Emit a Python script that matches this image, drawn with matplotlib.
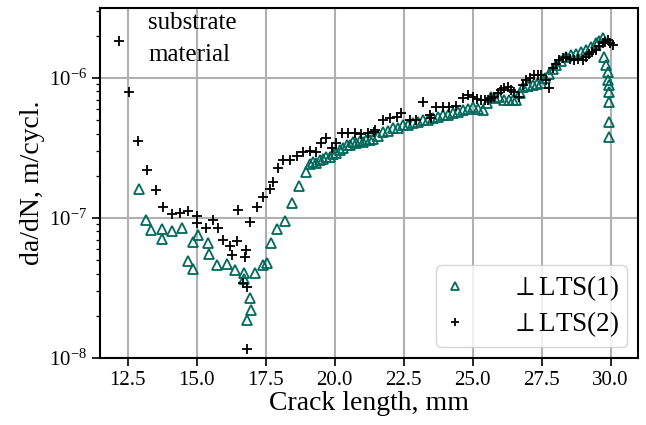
import matplotlib
matplotlib.use("Agg")
import matplotlib.pyplot as plt

plt.rcParams['font.family'] = ['Liberation Serif', 'DejaVu Serif']
plt.rcParams['mathtext.fontset'] = 'stix'

# Series 1: triangles (⊥ LTS(1))
x1 = [12.92, 13.17, 13.34, 13.74, 13.74, 14.10, 14.46, 14.70, 14.87, 14.87,
      15.06, 15.40, 15.45, 15.75, 16.09, 16.39, 16.71, 16.71, 16.93, 16.97,
      16.81, 17.11, 17.41, 17.56, 17.68, 17.92, 18.20, 18.44, 18.71, 18.96,
      19.10, 19.22, 19.34, 19.46, 19.58, 19.70, 19.82, 19.94, 20.06, 20.19,
      20.31, 20.43, 20.55, 20.67, 20.79, 20.91, 21.03, 21.15, 21.27, 21.39,
      21.57, 21.75, 21.93, 22.11, 22.29, 22.47, 22.65, 22.84, 23.02, 23.20,
      23.38, 23.56, 23.74, 23.92, 24.10, 24.28, 24.46, 24.64, 24.82, 25.01,
      25.19, 25.37, 25.52, 25.67, 25.82, 25.97, 26.15, 26.33, 26.45, 26.58,
      26.70, 26.82, 27.00, 27.18, 27.33, 27.48, 27.63, 27.78, 27.90, 28.02,
      28.20, 28.38, 28.56, 28.75, 28.93, 29.11, 29.29, 29.47, 29.59, 29.71,
      29.77, 29.83, 29.89, 29.92, 29.94, 29.94, 29.94, 29.94, 29.94]
y1 = [1.60e-7, 9.7e-8, 8.2e-8, 8.3e-8, 7.1e-8, 8.0e-8, 8.5e-8, 4.93e-8, 4.28e-8, 6.74e-8,
      7.52e-8, 6.62e-8, 5.48e-8, 4.59e-8, 4.67e-8, 4.23e-8, 4.01e-8, 3.63e-8, 2.66e-8, 2.19e-8,
      1.86e-8, 4.01e-8, 4.59e-8, 4.77e-8, 6.62e-8, 8.26e-8, 9.47e-8, 1.27e-7, 1.68e-7, 2.11e-7,
      2.42e-7, 2.51e-7, 2.45e-7, 2.58e-7, 2.62e-7, 2.73e-7, 2.70e-7, 2.85e-7, 2.92e-7, 3.05e-7,
      3.18e-7, 3.31e-7, 3.30e-7, 3.46e-7, 3.42e-7, 3.55e-7, 3.50e-7, 3.59e-7, 3.62e-7, 3.65e-7,
      3.85e-7, 4.11e-7, 4.20e-7, 4.35e-7, 4.40e-7, 4.59e-7, 4.60e-7, 4.72e-7, 4.85e-7, 4.99e-7,
      5.00e-7, 5.13e-7, 5.25e-7, 5.42e-7, 5.45e-7, 5.57e-7, 5.70e-7, 5.88e-7, 5.95e-7, 6.21e-7,
      6.00e-7, 5.88e-7, 6.60e-7, 7.32e-7, 7.20e-7, 7.32e-7, 7.00e-7, 6.93e-7, 6.90e-7, 6.93e-7,
      7.80e-7, 8.62e-7, 8.70e-7, 8.87e-7, 9.00e-7, 9.12e-7, 1.00e-6, 1.07e-6, 1.15e-6, 1.23e-6,
      1.32e-6, 1.41e-6, 1.45e-6, 1.49e-6, 1.52e-6, 1.58e-6, 1.66e-6, 1.76e-6, 1.82e-6, 1.91e-6,
      1.41e-6, 1.23e-6, 1.10e-6, 9.63e-7, 8.87e-7, 7.94e-7, 6.74e-7, 4.85e-7, 3.79e-7]

# Series 2: plus markers (⊥ LTS(2))
x2 = [12.19, 12.53, 12.87, 13.19, 13.52, 13.79, 14.10, 14.40, 14.70, 15.02,
      15.02, 15.34, 15.60, 15.78, 15.96, 16.21, 16.45, 16.27, 16.49, 16.77,
      16.75, 16.93, 16.69, 16.81, 16.81, 17.17, 17.41, 17.65, 17.77, 17.95,
      18.13, 18.38, 18.62, 18.86, 19.10, 19.32, 19.49, 19.70, 19.89, 20.04,
      20.25, 20.49, 20.73, 20.97, 21.21, 21.42, 21.45, 21.75, 21.99, 22.24,
      22.42, 22.72, 22.96, 23.20, 23.44, 23.50, 23.68, 23.92, 24.16, 24.41,
      24.64, 24.83, 25.01, 25.15, 25.31, 25.43, 25.55, 25.67, 25.79, 25.91,
      26.03, 26.15, 26.27, 26.39, 26.51, 26.69, 26.82, 26.94, 27.09, 27.24,
      27.36, 27.48, 27.66, 27.78, 27.90, 28.02, 28.14, 28.26, 28.38, 28.53,
      28.68, 28.83, 28.98, 29.10, 29.22, 29.34, 29.47, 29.59, 29.71, 29.80,
      29.89, 29.97, 30.07]
y2 = [1.83e-6, 7.87e-7, 3.51e-7, 2.19e-7, 1.57e-7, 1.19e-7, 1.06e-7, 1.09e-7, 1.12e-7, 1.03e-7,
      9.2e-8, 8.5e-8, 9.6e-8, 8.5e-8, 6.93e-8, 6.28e-8, 6.85e-8, 5.42e-8, 1.14e-7, 5.88e-8,
      5.27e-8, 9.36e-8, 3.40e-8, 3.21e-8, 1.15e-8, 1.19e-7, 1.40e-7, 1.62e-7, 1.81e-7, 2.28e-7,
      2.58e-7, 2.58e-7, 2.77e-7, 2.96e-7, 3.01e-7, 2.96e-7, 3.43e-7, 3.69e-7, 3.13e-7, 3.43e-7,
      4.01e-7, 4.05e-7, 4.05e-7, 3.96e-7, 4.05e-7, 4.11e-7, 4.23e-7, 4.99e-7, 5.13e-7, 5.26e-7,
      5.57e-7, 4.99e-7, 4.99e-7, 6.74e-7, 5.42e-7, 5.13e-7, 6.21e-7, 6.16e-7, 6.21e-7, 6.33e-7,
      7.13e-7, 7.52e-7, 7.32e-7, 7.10e-7, 6.93e-7, 7.00e-7, 6.93e-7, 7.20e-7, 7.32e-7, 7.80e-7,
      8.17e-7, 8.40e-7, 8.54e-7, 8.20e-7, 7.94e-7, 7.32e-7, 8.90e-7, 9.63e-7, 1.00e-6, 1.045e-6,
      1.05e-6, 1.045e-6, 9.63e-7, 8.40e-7, 1.17e-6, 1.25e-6, 1.34e-6, 1.38e-6, 1.41e-6, 1.37e-6,
      1.34e-6, 1.36e-6, 1.34e-6, 1.42e-6, 1.49e-6, 1.53e-6, 1.58e-6, 1.68e-6, 1.76e-6, 1.80e-6,
      1.86e-6, 1.78e-6, 1.71e-6]

label1 = r'$\perp$LTS(1)'
label2 = r'$\perp$LTS(2)'
teal = '#00695c'

fig = plt.figure(figsize=(6.46, 4.25), dpi=100)
ax = fig.add_axes([0.155, 0.158, 0.833, 0.823])

ax.semilogy(x1, y1, linestyle='none', marker='^', ms=7.5, mfc='none',
            mec=teal, mew=1.3, label=label1)
ax.semilogy(x2, y2, linestyle='none', marker='+', ms=7.5, color='black',
            mew=1.3, label=label2)

ax.set_xlim(11.5, 31.0)
ax.set_ylim(1e-8, 3.15e-6)
ax.set_xticks([12.5, 15.0, 17.5, 20.0, 22.5, 25.0, 27.5, 30.0])
ax.grid(True, which='major', color='#b0b0b0', linewidth=1.5)
ax.set_axisbelow(True)
for s in ax.spines.values():
    s.set_linewidth(1.5)
ax.tick_params(axis='both', which='major', labelsize=15, width=1.2, length=5.5, pad=4)
ax.tick_params(axis='y', which='minor', width=0.9, length=3)

ax.set_xlabel('Crack length, mm', fontsize=20, labelpad=1)
ax.set_ylabel('da/dN, m/cycl.', fontsize=20, labelpad=3)

ax.text(0.089, 0.99, 'substrate\nmaterial', transform=ax.transAxes,
        fontsize=18, va='top', ha='left', linespacing=1.6)

leg = ax.legend(loc='lower right', fontsize=19.5, handlelength=0.8,
                handletextpad=1.7, markerscale=0.8, borderaxespad=0.4,
                labelspacing=0.22, borderpad=0.3)

fig.savefig('out.png', dpi=100)
